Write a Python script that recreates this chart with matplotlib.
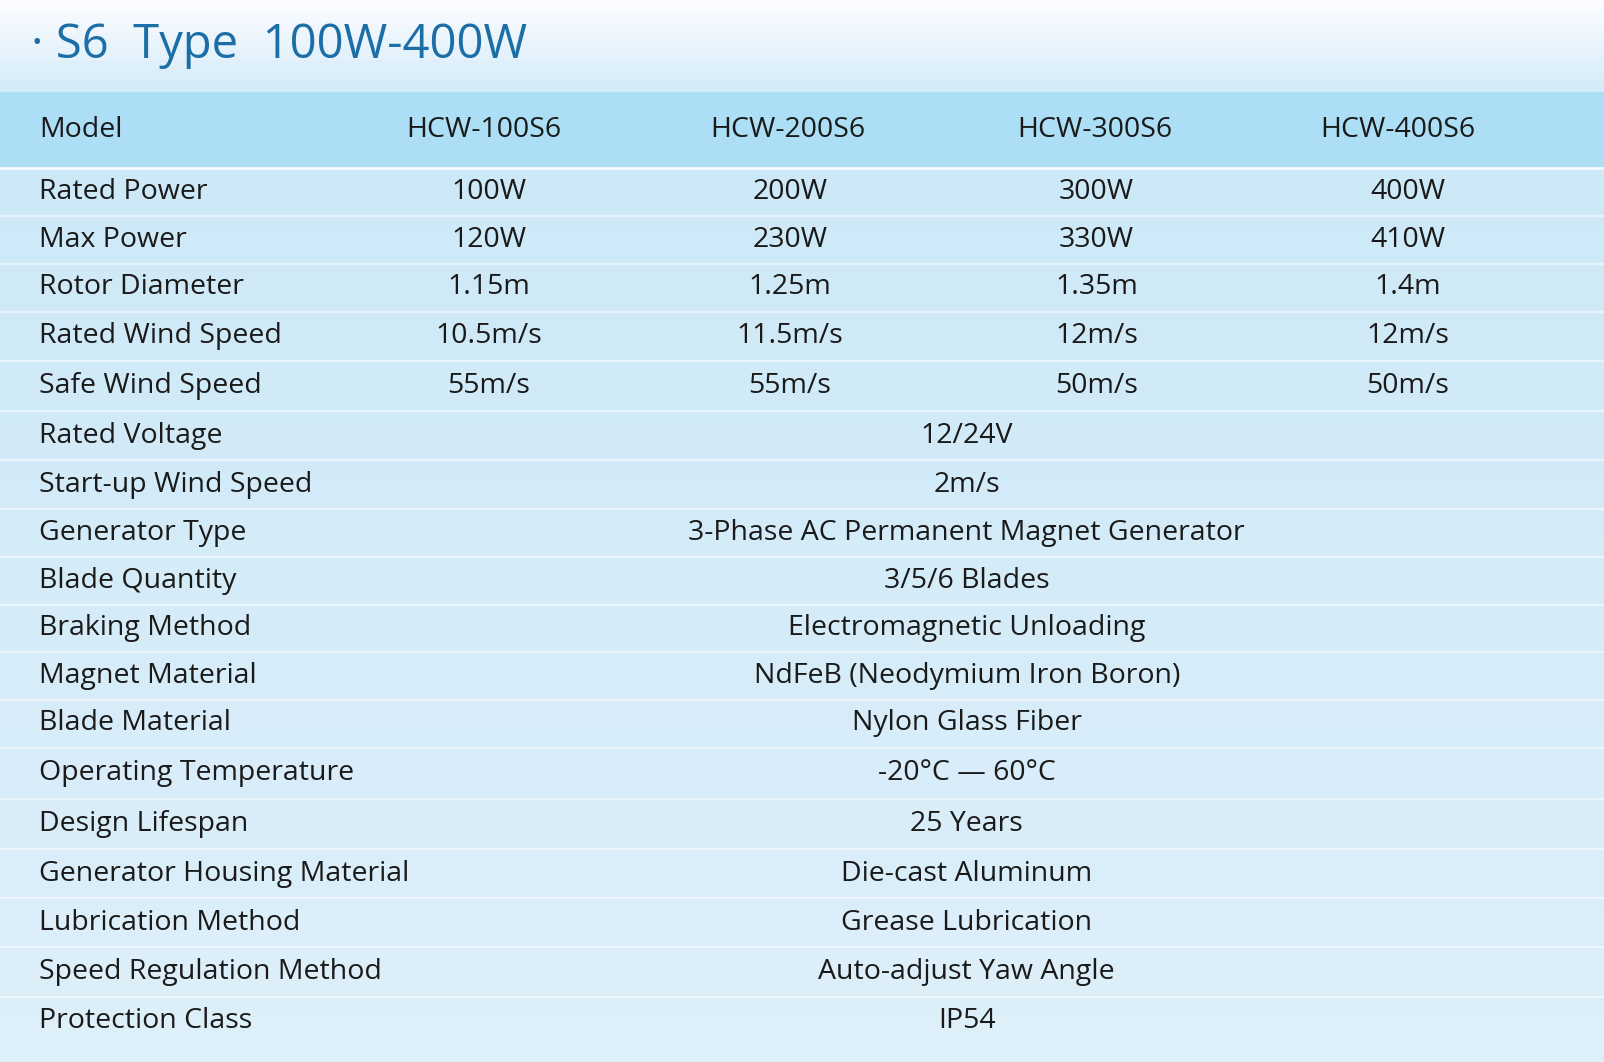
import matplotlib
matplotlib.use("Agg")
import matplotlib.pyplot as plt
import numpy as np

title = "· S6  Type  100W-400W"
models = ["HCW-100S6", "HCW-200S6", "HCW-300S6", "HCW-400S6"]
per_model_labels = ["Rated Power", "Max Power", "Rotor Diameter", "Rated Wind Speed", "Safe Wind Speed"]
per_model_values = [
    ["100W", "200W", "300W", "400W"],
    ["120W", "230W", "330W", "410W"],
    ["1.15m", "1.25m", "1.35m", "1.4m"],
    ["10.5m/s", "11.5m/s", "12m/s", "12m/s"],
    ["55m/s", "55m/s", "50m/s", "50m/s"],
]
shared_labels = ["Rated Voltage", "Start-up Wind Speed", "Generator Type", "Blade Quantity",
                 "Braking Method", "Magnet Material", "Blade Material", "Operating Temperature",
                 "Design Lifespan", "Generator Housing Material", "Lubrication Method",
                 "Speed Regulation Method", "Protection Class"]
shared_values = ["12/24V", "2m/s", "3-Phase AC Permanent Magnet Generator", "3/5/6 Blades",
                 "Electromagnetic Unloading", "NdFeB (Neodymium Iron Boron)", "Nylon Glass Fiber",
                 "-20°C — 60°C", "25 Years", "Die-cast Aluminum", "Grease Lubrication",
                 "Auto-adjust Yaw Angle", "IP54"]

W, H = 1568, 1038  # layout coordinate space
fig = plt.figure(figsize=(16.04, 10.62), dpi=100)
ax = fig.add_axes([0, 0, 1, 1])
ax.set_xlim(0, W); ax.set_ylim(H, 0); ax.axis("off")

yy = np.linspace(0, 1, 300)[:, None]
top = np.array([0.99, 0.99, 1.0]); mid = np.array([0.80, 0.91, 0.97]); bot = np.array([0.87, 0.94, 0.98])
t = np.clip(yy / 0.1, 0, 1)[..., None]
f = np.clip((yy - 0.1) / 0.9, 0, 1)[..., None]
grad = np.where(yy[..., None] < 0.1, top*(1-t) + mid*t, mid*(1-f) + bot*f)
grad = np.repeat(grad, 2, axis=1)
ax.imshow(grad, extent=[0, W, H, 0], aspect="auto", zorder=0)
ax.axhspan(90, 162, color="#acdef5", zorder=1)

font = "Open Sans"
tc = "#1a1a1a"
fs = 20.5
ax.text(30, 44, title, fontsize=34, color="#1c6ea6", va="center", ha="left", family=font)

col_x = [473, 770, 1070, 1366]
ax.text(38, 127, "Model", fontsize=fs, color=tc, va="center", family=font)
for x, m in zip(col_x, models):
    ax.text(x, 127, m, fontsize=fs, color=tc, va="center", ha="center", family=font)

ys = [188, 235, 281, 328, 377, 426, 474, 521, 568, 614, 661, 707, 756, 805, 854, 902, 950, 998]
for i, (lab, vals) in enumerate(zip(per_model_labels, per_model_values)):
    y = ys[i]
    ax.text(38, y, lab, fontsize=fs, color=tc, va="center", family=font)
    for x, v in zip([478, 772, 1072, 1376], vals):
        ax.text(x, y, v, fontsize=fs, color=tc, va="center", ha="center", family=font)
for j, (lab, v) in enumerate(zip(shared_labels, shared_values)):
    y = ys[5 + j]
    ax.text(38, y, lab, fontsize=fs, color=tc, va="center", family=font)
    ax.text(945, y, v, fontsize=fs, color=tc, va="center", ha="center", family=font)

for k in range(len(ys) - 1):
    ax.axhline((ys[k] + ys[k+1]) / 2, color="white", lw=1.5, alpha=0.5, zorder=1)
ax.axhline(164, color="white", lw=2, alpha=0.8, zorder=1)

fig.savefig("out.png", dpi=100)
